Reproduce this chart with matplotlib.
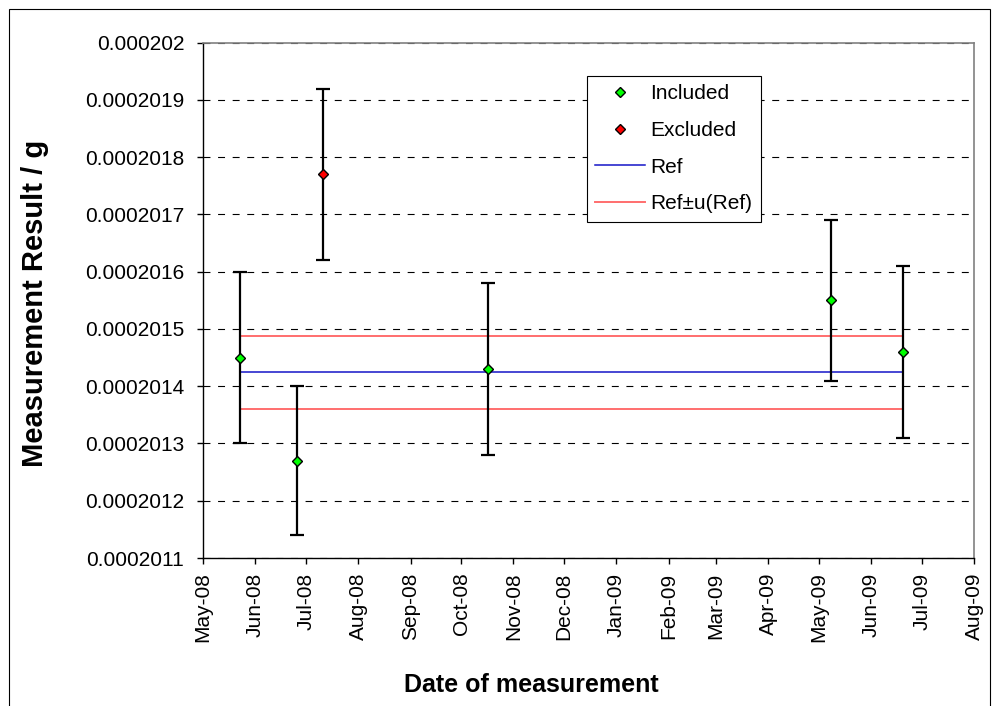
import datetime as dt

import matplotlib
matplotlib.use('Agg')
import matplotlib.pyplot as plt
import matplotlib.dates as mdates
from matplotlib.patches import Rectangle
from matplotlib.ticker import FuncFormatter, MultipleLocator

plt.rcParams['font.family'] = ['Liberation Sans', 'DejaVu Sans']
plt.rcParams['lines.scale_dashes'] = False

# measurements used for the reference value
inc_dates = [dt.datetime(2008, 5, 23), dt.datetime(2008, 6, 26), dt.datetime(2008, 10, 17),
             dt.datetime(2009, 5, 8), dt.datetime(2009, 6, 20)]
inc_vals = [0.00020145, 0.00020127, 0.00020143, 0.00020155, 0.00020146]
inc_err = [0.00000015, 0.00000013, 0.00000015, 0.00000014, 0.00000015]

# outlier left out of the reference value
exc_dates = [dt.datetime(2008, 7, 11)]
exc_vals = [0.00020177]
exc_err = [0.00000015]

ref = 0.000201424
u_ref = 0.000000064
ref_span = [inc_dates[0], inc_dates[-1]]

fig = plt.figure(figsize=(9.99, 7.06), dpi=100)
ax = fig.add_axes([203 / 999, 1 - 558 / 706, (974 - 203) / 999, (558 - 42.7) / 706])

ax.errorbar(inc_dates, inc_vals, yerr=inc_err, fmt='none', ecolor='black',
            elinewidth=1.6, capsize=5, capthick=1.6, zorder=3)
ax.errorbar(exc_dates, exc_vals, yerr=exc_err, fmt='none', ecolor='black',
            elinewidth=1.6, capsize=5, capthick=1.6, zorder=3)
ax.plot(inc_dates, inc_vals, 'D', ms=5.6, mfc='#00FF00', mec='black', mew=1,
        ls='none', label='Included', zorder=4)
ax.plot(exc_dates, exc_vals, 'D', ms=5.6, mfc='#FF0000', mec='black', mew=1,
        ls='none', label='Excluded', zorder=4)
ax.plot(ref_span, [ref, ref], color='#1515C8', lw=1.1, label='Ref', zorder=2)
ax.plot(ref_span, [ref + u_ref, ref + u_ref], color='#FF6E6E', lw=1.4,
        label='Ref\u00b1u(Ref)', zorder=2)
ax.plot(ref_span, [ref - u_ref, ref - u_ref], color='#FF6E6E', lw=1.4, zorder=2)

ax.set_ylim(0.0002011, 0.000202)
ax.yaxis.set_major_locator(MultipleLocator(0.0000001))
ax.yaxis.set_major_formatter(FuncFormatter(
    lambda v, pos: format(round(v, 10), '.7f').rstrip('0')))
ax.set_xlim(dt.datetime(2008, 5, 1), dt.datetime(2009, 8, 1))
ax.xaxis.set_major_locator(mdates.MonthLocator())
ax.xaxis.set_major_formatter(mdates.DateFormatter('%b-%y'))
plt.setp(ax.get_xticklabels(), rotation=90)

ax.grid(axis='y', color='black', lw=0.8, linestyle=(0, (5, 5.5)), zorder=1)
ax.tick_params(axis='both', direction='out', length=4.5, width=1,
               labelsize=15, color='black')
ax.tick_params(axis='y', pad=9)
ax.tick_params(axis='x', pad=6)
for side in ['top', 'right']:
    ax.spines[side].set_color('#808080')
    ax.spines[side].set_linewidth(1.2)
for side in ['left', 'bottom']:
    ax.spines[side].set_color('black')
    ax.spines[side].set_linewidth(1)

fig.text(35 / 999, 1 - 303 / 706, 'Measurement Result / g', rotation=90,
         ha='center', va='center', fontsize=21, fontweight='bold')
fig.text(531 / 999, 1 - 685 / 706, 'Date of measurement',
         ha='center', va='center', fontsize=18, fontweight='bold')

leg = ax.legend(loc='upper left', bbox_to_anchor=(587 / 999, 1 - 76 / 706),
                bbox_transform=fig.transFigure, fontsize=15, frameon=True,
                fancybox=False, edgecolor='black', framealpha=1,
                handlelength=2.4, handletextpad=0.25, labelspacing=0.85,
                borderpad=0.4, borderaxespad=0)
leg.get_frame().set_linewidth(0.8)

# outer chart border
fig.patches.append(Rectangle((8.5 / 999, -0.1), (990 - 8.5) / 999, 1.1 - 9.3 / 706,
                             transform=fig.transFigure, fill=False,
                             edgecolor='black', lw=0.8, clip_on=False))

fig.savefig('out.png', dpi=100)
